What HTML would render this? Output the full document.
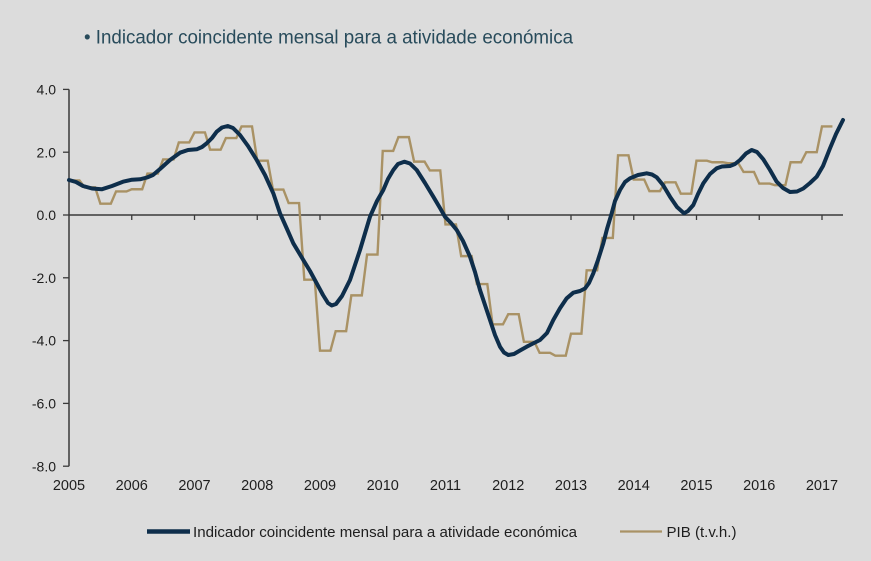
<!DOCTYPE html>
<html>
<head>
<meta charset="utf-8">
<style>
  html,body{margin:0;padding:0;background:#dcdcdc;}
  svg{display:block;}
  text{font-family:"Liberation Sans", Arial, sans-serif;}
</style>
</head>
<body>
<svg width="871" height="561" viewBox="0 0 871 561" xmlns="http://www.w3.org/2000/svg">
  <rect x="0" y="0" width="871" height="561" fill="#dcdcdc"/>

  <!-- Title -->
  <text x="84" y="43.5" font-size="19.5" fill="#284b5b" textLength="489" lengthAdjust="spacingAndGlyphs">• Indicador coincidente mensal para a atividade económica</text>

  <!-- Y axis -->
  <line x1="69" y1="89.4" x2="69" y2="466.2" stroke="#3a3a3a" stroke-width="1.5"/>
  <g stroke="#3a3a3a" stroke-width="1.3">
    <line x1="63" y1="89.4" x2="69" y2="89.4"/>
    <line x1="63" y1="152.2" x2="69" y2="152.2"/>
    <line x1="63" y1="215" x2="69" y2="215"/>
    <line x1="63" y1="277.8" x2="69" y2="277.8"/>
    <line x1="63" y1="340.6" x2="69" y2="340.6"/>
    <line x1="63" y1="403.4" x2="69" y2="403.4"/>
    <line x1="63" y1="466.2" x2="69" y2="466.2"/>
  </g>
  <g font-size="14" fill="#1e1e1e" text-anchor="end">
    <text x="56" y="94.5">4.0</text>
    <text x="56" y="157.3">2.0</text>
    <text x="56" y="220.1">0.0</text>
    <text x="56" y="282.9">-2.0</text>
    <text x="56" y="345.7">-4.0</text>
    <text x="56" y="408.5">-6.0</text>
    <text x="56" y="471.3">-8.0</text>
  </g>

  <!-- Zero line with ticks -->
  <line x1="69" y1="215" x2="843" y2="215" stroke="#3a3a3a" stroke-width="1.5"/>
  <g stroke="#3a3a3a" stroke-width="1.3">
    <line x1="131.75" y1="215" x2="131.75" y2="220"/>
    <line x1="194.5" y1="215" x2="194.5" y2="220"/>
    <line x1="257.25" y1="215" x2="257.25" y2="220"/>
    <line x1="320" y1="215" x2="320" y2="220"/>
    <line x1="382.75" y1="215" x2="382.75" y2="220"/>
    <line x1="445.5" y1="215" x2="445.5" y2="220"/>
    <line x1="508.25" y1="215" x2="508.25" y2="220"/>
    <line x1="571" y1="215" x2="571" y2="220"/>
    <line x1="633.75" y1="215" x2="633.75" y2="220"/>
    <line x1="696.5" y1="215" x2="696.5" y2="220"/>
    <line x1="759.25" y1="215" x2="759.25" y2="220"/>
    <line x1="822" y1="215" x2="822" y2="220"/>
  </g>

  <!-- X labels -->
  <g font-size="14.5" fill="#1e1e1e" text-anchor="middle">
    <text x="69" y="490">2005</text>
    <text x="131.75" y="490">2006</text>
    <text x="194.5" y="490">2007</text>
    <text x="257.25" y="490">2008</text>
    <text x="320" y="490">2009</text>
    <text x="382.75" y="490">2010</text>
    <text x="445.5" y="490">2011</text>
    <text x="508.25" y="490">2012</text>
    <text x="571" y="490">2013</text>
    <text x="633.75" y="490">2014</text>
    <text x="696.5" y="490">2015</text>
    <text x="759.25" y="490">2016</text>
    <text x="822" y="490">2017</text>
  </g>

  <!-- PIB step line (month, value coordinates) -->
  <g transform="translate(69,215) scale(5.229,-31.4)">
    <path fill="none" stroke="#a99265" stroke-width="2.4" vector-effect="non-scaling-stroke" stroke-linejoin="miter"
      d="M0,1.1 L2,1.1 L3,0.88 L5,0.88 L6,0.36 L8,0.36 L9,0.75 L11,0.75 L12,0.82 L14,0.82 L15,1.32 L17,1.32 L18,1.77 L20,1.77 L21,2.31 L23,2.31 L24,2.63 L26,2.63 L27,2.08 L29,2.08 L30,2.45 L32,2.45 L33,2.82 L35,2.82 L36,1.73 L38,1.73 L39,0.81 L41,0.81 L42,0.38 L44,0.38 L45,-2.06 L47,-2.06 L48,-4.32 L50,-4.32 L51,-3.7 L53,-3.7 L54,-2.56 L56,-2.56 L57,-1.26 L59,-1.26 L60,2.04 L62,2.04 L63,2.48 L65,2.48 L66,1.70 L68,1.70 L69,1.42 L71,1.42 L72,-0.3 L74,-0.3 L75,-1.31 L77,-1.31 L78,-2.2 L80,-2.2 L81,-3.48 L83,-3.48 L84,-3.16 L86,-3.16 L87,-4.04 L89,-4.04 L90,-4.39 L92,-4.39 L93,-4.48 L95,-4.48 L96,-3.78 L98,-3.78 L99,-1.76 L101,-1.76 L102,-0.73 L104,-0.73 L105,1.9 L107,1.9 L108,1.13 L110,1.13 L111,0.76 L113,0.76 L114,1.04 L116,1.04 L117,0.68 L119,0.68 L120,1.73 L122,1.73 L123,1.68 L125,1.68 L126,1.65 L128,1.65 L129,1.37 L131,1.37 L132,1.0 L134,1.0 L135,0.95 L137,0.95 L138,1.68 L140,1.68 L141,2.0 L143,2.0 L144,2.82 L146,2.82"/>
  </g>

  <!-- Indicator smooth line -->
  <polyline fill="none" stroke="#0e2e4b" stroke-width="4" stroke-linejoin="round" stroke-linecap="round"
    points="69,180 76,182 83,186 92,188.5 101.7,189.3 112,186 123,181.7 132,179.7 140,179.3 147,177.5 153,175 160,169 170,160 180,152.7 188,150 196.7,149.3 202,147 206.7,143.3 212,138 216.7,131.7 222,127.5 227.7,126 233,128 240,135 248,146 256.7,160 265,175 273.3,193.3 280,213.3 287,229 293.3,243.3 303.3,260 310,271 316.7,283.3 323,295 328,303 331.7,305.5 336,304 342,296 350,280 360,250 370,216.7 377,201 383.3,190 388,179 393.3,170 398,164 404.3,161.7 410,163.5 416.7,170 425,183 433.3,196.7 440,208 445,216.7 451,223 456.7,230 463,241 470,256.7 475,272 480,290 485,305 490,320 495,335 500,346.7 504,352.5 508.3,355 514,354 520,350.5 526.7,346.7 533,343.5 540,340 547,333 553.3,320 560,308.3 566.7,298.3 573.3,292.7 580,291 585,288.5 589,283 593.3,273.3 598,260 603.3,243.3 607,229 611.7,213.3 615,201 620,190 625,182 630,178.3 638,175 646.7,173.3 652,174.5 656.7,177.3 663,185 670,196.7 677,207 684,213.3 688,211 693.3,205 698,194 703.3,183.3 710,174 716.7,168.3 722,166.5 730,166 735,164 740,160 746,153.5 751.7,150 757,152 763.3,159.3 770,170 776.7,181.7 783,188 790,192 797,191.5 803.3,188.5 810,183 816.7,176.7 823,166 830,148.3 836,134 843,120"/>

  <!-- Legend -->
  <line x1="147" y1="531.5" x2="190" y2="531.5" stroke="#0e2e4b" stroke-width="4.5"/>
  <text x="193" y="537" font-size="14.5" fill="#1e1e1e" textLength="384" lengthAdjust="spacingAndGlyphs">Indicador coincidente mensal para a atividade económica</text>
  <line x1="620" y1="531.5" x2="662" y2="531.5" stroke="#a99265" stroke-width="2.2"/>
  <text x="666.5" y="537" font-size="14.5" fill="#1e1e1e" textLength="70" lengthAdjust="spacingAndGlyphs">PIB (t.v.h.)</text>
</svg>
</body>
</html>
